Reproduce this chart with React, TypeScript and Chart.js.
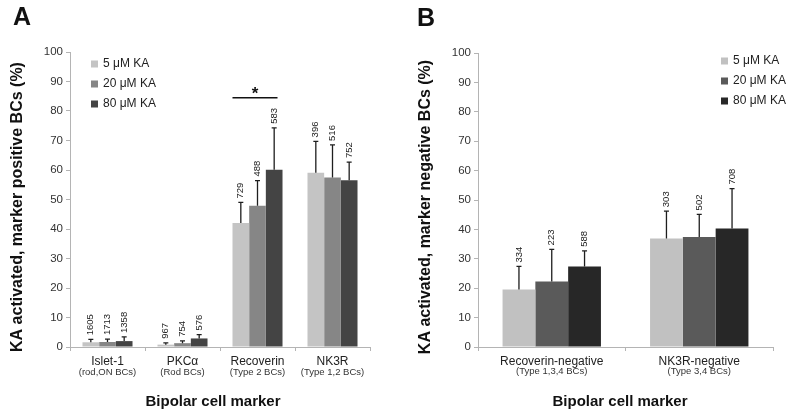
import React, { useEffect, useRef } from 'react';
import { Chart, registerables } from 'chart.js';
Chart.register(...registerables);

const FONT = '"Liberation Sans", Arial, sans-serif';

const seriesNames = ['5 μM KA', '20 μM KA', '80 μM KA'];
const yTickValues = [0, 10, 20, 30, 40, 50, 60, 70, 80, 90, 100];

// Panel A
const catsA = ['Islet-1', 'PKCα', 'Recoverin', 'NK3R'];
const subsA = ['(rod,ON BCs)', '(Rod BCs)', '(Type 2 BCs)', '(Type 1,2 BCs)'];
const a5 = [1.6, 0.8, 42.0, 59.1];
const a20 = [1.7, 1.3, 47.9, 57.5];
const a80 = [2.0, 2.9, 60.1, 56.5];
const a5Sd = [1.0, 0.6, 7.0, 10.6];
const a20Sd = [1.0, 0.8, 8.5, 11.0];
const a80Sd = [1.4, 1.3, 14.2, 6.2];
const a5N = [1605, 967, 729, 396];
const a20N = [1713, 754, 488, 516];
const a80N = [1358, 576, 583, 752];

// Panel B
const catsB = ['Recoverin-negative', 'NK3R-negative'];
const subsB = ['(Type 1,3,4 BCs)', '(Type 3,4 BCs)'];
const b5 = [19.6, 36.9];
const b20 = [22.3, 37.4];
const b80 = [27.4, 40.3];
const b5Sd = [7.8, 9.3];
const b20Sd = [10.9, 7.7];
const b80Sd = [5.3, 13.6];
const b5N = [334, 303];
const b20N = [223, 502];
const b80N = [588, 708];

const colorsA = ['#c4c4c4', '#868686', '#444444'];
const colorsB = ['#c1c1c1', '#5a5a5a', '#272727'];

type PanelCfg = {
  letter: string; letterX: number; letterY: number;
  yTitle: string; yTitleX: number; yTitleY: number;
  xTitle: string; xTitleX: number; xTitleY: number;
  subs: string[]; subY: number;
  sds: number[][]; ns: number[][];
  legendX: number; legendY: number[]; colors: string[];
  sig: boolean;
};

function makePlugin(p: PanelCfg) {
  return {
    id: 'panelDecor',
    afterDraw(chart: any) {
      const ctx = chart.ctx as CanvasRenderingContext2D;
      const ys = chart.scales.y;
      const xs = chart.scales.x;
      ctx.save();
      // error bars and n labels
      chart.data.datasets.forEach((ds: any, di: number) => {
        const meta = chart.getDatasetMeta(di);
        meta.data.forEach((el: any, i: number) => {
          const v = ds.data[i];
          const top = ys.getPixelForValue(v + p.sds[di][i]);
          ctx.strokeStyle = '#1e1e1e';
          ctx.lineWidth = 1.3;
          ctx.beginPath();
          ctx.moveTo(el.x, el.y);
          ctx.lineTo(el.x, top);
          ctx.moveTo(el.x - 2.5, top);
          ctx.lineTo(el.x + 2.5, top);
          ctx.stroke();
          ctx.save();
          ctx.translate(el.x, top - 4);
          ctx.rotate(-Math.PI / 2);
          ctx.font = `9.5px ${FONT}`;
          ctx.fillStyle = '#222';
          ctx.textAlign = 'left';
          ctx.textBaseline = 'middle';
          ctx.fillText(String(p.ns[di][i]), 0, 0);
          ctx.restore();
        });
      });
      // sub labels
      ctx.font = `9.5px ${FONT}`;
      ctx.fillStyle = '#333';
      ctx.textAlign = 'center';
      ctx.textBaseline = 'middle';
      p.subs.forEach((s, i) => {
        ctx.fillText(s, xs.getPixelForValue(i), p.subY);
      });
      // legend
      ctx.font = `12px ${FONT}`;
      ctx.textAlign = 'left';
      ctx.textBaseline = 'middle';
      seriesNames.forEach((name, i) => {
        ctx.fillStyle = p.colors[i];
        ctx.fillRect(p.legendX, p.legendY[i] - 3.5, 7, 7);
        ctx.fillStyle = '#222';
        ctx.fillText(name, p.legendX + 12, p.legendY[i]);
      });
      // significance
      if (p.sig) {
        const e0 = chart.getDatasetMeta(0).data[2];
        const e2 = chart.getDatasetMeta(2).data[2];
        const x0 = e0.x - e0.width / 2;
        const x1 = e2.x + e2.width * 0.2;
        const yy = ys.getPixelForValue(84.5);
        ctx.strokeStyle = '#111';
        ctx.lineWidth = 1.5;
        ctx.beginPath();
        ctx.moveTo(x0, yy);
        ctx.lineTo(x1, yy);
        ctx.stroke();
        ctx.font = `bold 17px ${FONT}`;
        ctx.fillStyle = '#111';
        ctx.textAlign = 'center';
        ctx.textBaseline = 'alphabetic';
        ctx.fillText('*', (x0 + x1) / 2, yy + 1);
      }
      // titles
      ctx.fillStyle = '#111';
      ctx.font = `bold 15px ${FONT}`;
      ctx.textAlign = 'center';
      ctx.textBaseline = 'middle';
      ctx.fillText(p.xTitle, p.xTitleX, p.xTitleY);
      ctx.save();
      ctx.translate(p.yTitleX, p.yTitleY);
      ctx.rotate(-Math.PI / 2);
      ctx.font = `bold 16px ${FONT}`;
      ctx.fillText(p.yTitle, 0, 0);
      ctx.restore();
      ctx.font = `bold 25px ${FONT}`;
      ctx.textAlign = 'left';
      ctx.textBaseline = 'alphabetic';
      ctx.fillText(p.letter, p.letterX, p.letterY);
      ctx.restore();
    },
  };
}

function buildConfig(
  cats: string[],
  series: number[][],
  colors: string[],
  yWidth: number,
  padRight: number,
  padTop: number,
  p: PanelCfg
): any {
  return {
    type: 'bar',
    data: {
      labels: cats,
      datasets: series.map((d, i) => ({
        label: seriesNames[i],
        data: d,
        backgroundColor: colors[i],
        borderWidth: 0,
        categoryPercentage: 0.667,
        barPercentage: 1.0,
      })),
    },
    options: {
      responsive: false,
      maintainAspectRatio: false,
      animation: false,
      layout: { padding: { left: 0, right: padRight, top: padTop, bottom: 0 } },
      plugins: { legend: { display: false }, tooltip: { enabled: false } },
      scales: {
        x: {
          type: 'category',
          offset: true,
          grid: {
            display: true,
            drawOnChartArea: false,
            drawTicks: true,
            tickLength: 4,
            color: '#b4b4b4',
            offset: true,
          },
          border: { display: true, color: '#b4b4b4' },
          ticks: {
            font: { family: FONT, size: 12 },
            color: '#222',
            padding: 3,
            maxRotation: 0,
            minRotation: 0,
            autoSkip: false,
          },
          afterFit: (s: any) => {
            s.height = 67;
          },
        },
        y: {
          min: 0,
          max: 100,
          grid: { drawOnChartArea: false, drawTicks: true, tickLength: 4, color: '#b4b4b4' },
          border: { display: true, color: '#b4b4b4' },
          ticks: {
            stepSize: 10,
            font: { family: FONT, size: 11.5 },
            color: '#333',
            padding: 3,
          },
          afterBuildTicks: (s: any) => {
            s.ticks = yTickValues.map((v) => ({ value: v }));
          },
          afterFit: (s: any) => {
            s.width = yWidth;
          },
        },
      },
    },
    plugins: [makePlugin(p)],
  };
}

export default function App() {
  const refA = useRef<HTMLCanvasElement>(null);
  const refB = useRef<HTMLCanvasElement>(null);

  useEffect(() => {
    const cfgA: PanelCfg = {
      letter: 'A', letterX: 13, letterY: 25,
      yTitle: 'KA activated, marker positive BCs (%)', yTitleX: 18, yTitleY: 207,
      xTitle: 'Bipolar cell marker', xTitleX: 213, xTitleY: 402,
      subs: subsA, subY: 372,
      sds: [a5Sd, a20Sd, a80Sd], ns: [a5N, a20N, a80N],
      legendX: 91, legendY: [64, 84, 104], colors: colorsA,
      sig: true,
    };
    const cfgB: PanelCfg = {
      letter: 'B', letterX: 17, letterY: 26,
      yTitle: 'KA activated, marker negative BCs (%)', yTitleX: 26, yTitleY: 207,
      xTitle: 'Bipolar cell marker', xTitleX: 220, xTitleY: 402,
      subs: subsB, subY: 371,
      sds: [b5Sd, b20Sd, b80Sd], ns: [b5N, b20N, b80N],
      legendX: 321, legendY: [61, 81, 101], colors: colorsB,
      sig: false,
    };
    const chartA = new Chart(
      refA.current as HTMLCanvasElement,
      buildConfig(catsA, [a5, a20, a80], colorsA, 70, 30, 52, cfgA)
    );
    const chartB = new Chart(
      refB.current as HTMLCanvasElement,
      buildConfig(catsB, [b5, b20, b80], colorsB, 78, 27, 53, cfgB)
    );
    return () => {
      chartA.destroy();
      chartB.destroy();
    };
  }, []);

  return (
    <div style={{ position: 'absolute', left: 0, top: 0, width: 800, height: 414, background: '#fff' }}>
      <canvas ref={refA} width={400} height={414} style={{ position: 'absolute', left: 0, top: 0, width: 400, height: 414 }} />
      <canvas ref={refB} width={400} height={414} style={{ position: 'absolute', left: 400, top: 0, width: 400, height: 414 }} />
    </div>
  );
}
